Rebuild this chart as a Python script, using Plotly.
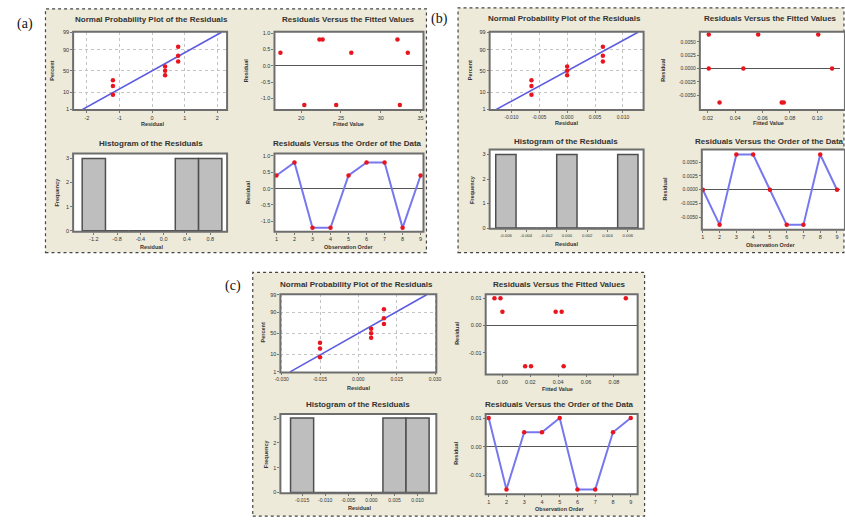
import plotly.graph_objects as go
from statistics import NormalDist

W, H = 845, 523

# ---------------- data ----------------
obs_order = [1, 2, 3, 4, 5, 6, 7, 8, 9]
npp_percent = [7.4, 18.1, 28.7, 39.4, 50.0, 60.6, 71.3, 81.9, 92.6]
npp_pct_ticks = [1, 10, 50, 90, 99]
fit_line_pct = [1, 99]
freq_ticks = [0, 1, 2, 3]

# (a)
a_resid = [0.4, 0.8, -1.2, -1.2, 0.4, 0.8, 0.8, -1.2, 0.4]
a_fitted = [17.4, 22.3, 20.4, 24.4, 26.3, 22.7, 32.1, 32.4, 33.4]
a_npp_resid = [-1.2, -1.2, -1.2, 0.4, 0.4, 0.4, 0.8, 0.8, 0.8]
a_line_resid = [-2.13, 2.13]
a_hist_mid = [-1.2, -0.8, -0.4, 0.0, 0.4, 0.8]
a_hist_count = [3, 0, 0, 0, 3, 3]
a_hist_binw = 0.4
a_npp_xticks = [-2, -1, 0, 1, 2]
a_npp_xlabels = ["-2", "-1", "0", "1", "2"]
a_fit_xticks = [20, 25, 30, 35]
a_fit_xlabels = ["20", "25", "30", "35"]
a_res_yticks = [1.0, 0.5, 0.0, -0.5, -1.0]
a_res_ylabels = ["1.0", "0.5", "0.0", "-0.5", "-1.0"]
a_hist_xlabels = ["-1.2", "-0.8", "-0.4", "0.0", "0.4", "0.8"]

# (b)
b_resid = [0.0, -0.0064, 0.0064, 0.0064, 0.0, -0.0064, -0.0064, 0.0064, 0.0]
b_fitted = [0.0207, 0.0286, 0.0207, 0.0568, 0.046, 0.074, 0.0755, 0.1007, 0.1108]
b_npp_resid = [-0.0064, -0.0064, -0.0064, 0.0, 0.0, 0.0, 0.0064, 0.0064, 0.0064]
b_line_resid = [-0.0127, 0.0127]
b_hist_mid = [-0.006, -0.004, -0.002, 0.0, 0.002, 0.004, 0.006]
b_hist_count = [3, 0, 0, 3, 0, 0, 3]
b_hist_binw = 0.002
b_npp_xticks = [-0.010, -0.005, 0.0, 0.005, 0.010]
b_npp_xlabels = ["-0.010", "-0.005", "0.000", "0.005", "0.010"]
b_fit_xticks = [0.02, 0.04, 0.06, 0.08, 0.10]
b_fit_xlabels = ["0.02", "0.04", "0.06", "0.08", "0.10"]
b_res_yticks = [0.005, 0.0025, 0.0, -0.0025, -0.005]
b_res_ylabels = ["0.0050", "0.0025", "0.0000", "-0.0025", "-0.0050"]
b_hist_xlabels = ["-0.006", "-0.004", "-0.002", "0.000", "0.002", "0.004", "0.006"]

# (c)
c_resid = [0.01, -0.015, 0.005, 0.005, 0.01, -0.015, -0.015, 0.005, 0.01]
c_fitted = [-0.0057, 0.0163, 0.0, 0.0382, -0.0014, 0.0205, 0.0439, 0.0425, 0.0885]
c_npp_resid = [-0.015, -0.015, -0.015, 0.005, 0.005, 0.005, 0.01, 0.01, 0.01]
c_line_resid = [-0.0267, 0.0267]
c_hist_mid = [-0.015, -0.010, -0.005, 0.0, 0.005, 0.010]
c_hist_count = [3, 0, 0, 0, 3, 3]
c_hist_binw = 0.005
c_npp_xticks = [-0.030, -0.015, 0.0, 0.015, 0.030]
c_npp_xlabels = ["-0.030", "-0.015", "0.000", "0.015", "0.030"]
c_fit_xticks = [0.0, 0.02, 0.04, 0.06, 0.08]
c_fit_xlabels = ["0.00", "0.02", "0.04", "0.06", "0.08"]
c_res_yticks = [0.01, 0.0, -0.01]
c_res_ylabels = ["0.01", "0.00", "-0.01"]
c_hist_xlabels = ["-0.015", "-0.010", "-0.005", "0.000", "0.005", "0.010"]

T_NPP = "Normal Probability Plot of the Residuals"
T_FIT = "Residuals Versus the Fitted Values"
T_HIST = "Histogram of the Residuals"
T_ORD = "Residuals Versus the Order of the Data"

# ---------------- styling ----------------
FONT = "Liberation Sans"
BEIGE = "#EDEAD9"
FRAME = "#6E6E6E"
RED = "#E8141E"
BLUE = "#5C5CE0"
LBLUE = "#7878EE"
TXT = "#333333"

nd = NormalDist()
def z(p):
    return nd.inv_cdf(p / 100.0)

def px(xp):
    return xp / W

def py(yp):
    return 1 - yp / H

fig = go.Figure()
layout = dict(shapes=[], annotations=[])
counter = [0]

def axes(box, xr, yr, xt, xtt, yt, ytt, grid=False, zero=False, xfs=5.5, yfs=5.5):
    counter[0] += 1
    i = counter[0]
    sfx = "" if i == 1 else str(i)
    x0, y0, x1, y1 = box
    common = dict(ticks="outside", ticklen=2, tickcolor="#777", tickwidth=1,
                  showline=False, fixedrange=True, layer="above traces")
    layout["xaxis" + sfx] = dict(domain=[px(x0), min(1.0, px(x1))], range=xr,
                                 anchor="y" + sfx, tickvals=xt, ticktext=xtt,
                                 tickfont=dict(size=xfs, color=TXT, family=FONT),
                                 showgrid=grid, gridcolor="#C4C4C4", griddash="dot",
                                 zeroline=False, **common)
    layout["yaxis" + sfx] = dict(domain=[py(y1), py(y0)], range=yr,
                                 anchor="x" + sfx, tickvals=yt, ticktext=ytt,
                                 tickfont=dict(size=yfs, color=TXT, family=FONT),
                                 showgrid=grid, gridcolor="#C4C4C4", griddash="dot",
                                 zeroline=zero, zerolinecolor="#555555", zerolinewidth=1,
                                 **common)
    layout["shapes"].append(dict(type="rect", xref="paper", yref="paper", layer="below",
                                 x0=px(x0), x1=px(x1), y0=py(y1), y1=py(y0),
                                 fillcolor="white", line=dict(width=0)))
    layout["shapes"].append(dict(type="rect", xref="paper", yref="paper", layer="above",
                                 x0=px(x0), x1=px(x1), y0=py(y1), y1=py(y0),
                                 fillcolor="rgba(0,0,0,0)", line=dict(color=FRAME, width=2)))
    return "x" + sfx, "y" + sfx

def text(s, xp, yp, size=5.5, bold=True, angle=0, color=TXT, family=FONT):
    layout["annotations"].append(dict(
        text=("<b>%s</b>" % s) if bold else s, x=px(xp), y=py(yp), xref="paper", yref="paper",
        showarrow=False, textangle=angle, xanchor="center", yanchor="middle",
        font=dict(size=size, color=color, family=family)))

def panel(box):
    x0, y0, x1, y1 = box
    layout["shapes"].append(dict(type="rect", xref="paper", yref="paper", layer="below",
                                 x0=px(x0), x1=px(x1), y0=py(y1), y1=py(y0),
                                 fillcolor=BEIGE, line=dict(color="#444444", width=1.2, dash="dot")))

def npp(xa, ya, resid, line_resid):
    fig.add_trace(go.Scatter(x=line_resid, y=[z(p) for p in fit_line_pct], mode="lines",
                             line=dict(color=BLUE, width=1.6), xaxis=xa, yaxis=ya,
                             showlegend=False, hoverinfo="skip"))
    fig.add_trace(go.Scatter(x=resid, y=[z(p) for p in npp_percent], mode="markers",
                             marker=dict(color=RED, size=4.5), xaxis=xa, yaxis=ya,
                             showlegend=False, cliponaxis=False))

def fitted(xa, ya, fv, resid):
    fig.add_trace(go.Scatter(x=fv, y=resid, mode="markers", marker=dict(color=RED, size=4.5),
                             xaxis=xa, yaxis=ya, showlegend=False))

def hist(xa, ya, mids, counts, w):
    fig.add_trace(go.Bar(x=mids, y=counts, width=w, marker=dict(color="#BEBEBE",
                         line=dict(color="#4F4F4F", width=1.5)), xaxis=xa, yaxis=ya,
                         showlegend=False))

def order(xa, ya, resid):
    fig.add_trace(go.Scatter(x=obs_order, y=resid, mode="lines+markers",
                             line=dict(color=LBLUE, width=2), marker=dict(color=RED, size=4.5),
                             xaxis=xa, yaxis=ya, showlegend=False))

npp_yt = [z(p) for p in npp_pct_ticks]
npp_ytt = [str(p) for p in npp_pct_ticks]
ZR = [-2.36, 2.36]

# ---------------- panel (a) ----------------
panel((40, 6, 426, 252))
text("(a)", 19, 21, size=14, bold=False, color="#111", family="Liberation Serif")
xa, ya = axes((68, 29, 224, 108), [-2.42, 2.3], ZR, a_npp_xticks, a_npp_xlabels, npp_yt, npp_ytt, grid=True)
npp(xa, ya, a_npp_resid, a_line_resid)
xa, ya = axes((272, 29, 423, 108), [16.65, 35.37], [-1.35, 1.04], a_fit_xticks, a_fit_xlabels,
              a_res_yticks, a_res_ylabels, zero=True)
fitted(xa, ya, a_fitted, a_resid)
xa, ya = axes((68, 152, 224, 231), [-1.556, 1.09], [-0.04, 3.2], a_hist_mid, a_hist_xlabels,
              freq_ticks, [str(v) for v in freq_ticks])
hist(xa, ya, a_hist_mid, a_hist_count, a_hist_binw)
xa, ya = axes((272, 152, 423, 231), [0.89, 9.16], [-1.32, 1.07], obs_order, [str(v) for v in obs_order],
              a_res_yticks, a_res_ylabels, zero=True)
order(xa, ya, a_resid)
text(T_NPP, 147, 17, size=8); text(T_FIT, 347, 17, size=8)
text(T_HIST, 147, 142, size=8); text(T_ORD, 346, 142, size=8)
text("Percent", 47, 68, angle=-90); text("Residual", 148, 122)
text("Residual", 244, 68, angle=-90); text("Fitted Value", 347, 122)
text("Frequency", 52, 191, angle=-90); text("Residual", 147, 246)
text("Residual", 245, 191, angle=-90); text("Observation Order", 347, 246)

# ---------------- panel (b) ----------------
panel((458, 5, 849, 252))
text("(b)", 439, 16, size=14, bold=False, color="#111", family="Liberation Serif")
xa, ya = axes((490, 29, 646, 108), [-0.0139, 0.0137], ZR, b_npp_xticks, b_npp_xlabels, npp_yt, npp_ytt,
              grid=True, xfs=5)
npp(xa, ya, b_npp_resid, b_line_resid)
xa, ya = axes((703, 29, 850, 108), [0.0142, 0.1166], [-0.0078, 0.0069], b_fit_xticks, b_fit_xlabels,
              b_res_yticks, b_res_ylabels, zero=True, yfs=5)
fitted(xa, ya, b_fitted, b_resid)
xa, ya = axes((490, 148, 646, 228), [-0.0076, 0.00755], [-0.03, 3.2], b_hist_mid, b_hist_xlabels,
              freq_ticks, [str(v) for v in freq_ticks], xfs=4.2)
hist(xa, ya, b_hist_mid, b_hist_count, b_hist_binw)
xa, ya = axes((705, 148, 850, 229), [0.94, 9.18], [-0.0073, 0.0073], obs_order, [str(v) for v in obs_order],
              b_res_yticks, b_res_ylabels, zero=True, yfs=5)
order(xa, ya, b_resid)
text(T_NPP, 566, 16, size=8); text(T_FIT, 775, 16, size=8)
text(T_HIST, 567, 140, size=8); text(T_ORD, 774, 140, size=8)
text("Percent", 470, 68, angle=-90); text("Residual", 568, 121)
text("Residual", 666, 68, angle=-90); text("Fitted Value", 773, 121)
text("Frequency", 472, 188, angle=-90); text("Residual", 568, 243)
text("Residual", 668, 188, angle=-90); text("Observation Order", 775, 244)

# ---------------- panel (c) ----------------
panel((250, 272, 647, 518))
text("(c)", 230, 286, size=14, bold=False, color="#111", family="Liberation Serif")
xa, ya = axes((278, 294, 436, 373), [-0.0305, 0.0305], ZR, c_npp_xticks, c_npp_xlabels, npp_yt, npp_ytt,
              grid=True, xfs=5)
npp(xa, ya, c_npp_resid, c_line_resid)
xa, ya = axes((486, 294, 640, 375), [-0.012, 0.097], [-0.018, 0.01145], c_fit_xticks, c_fit_xlabels,
              c_res_yticks, c_res_ylabels, zero=True)
fitted(xa, ya, c_fitted, c_resid)
xa, ya = axes((278, 415, 436, 495), [-0.0197, 0.01406], [-0.03, 3.16], c_hist_mid, c_hist_xlabels,
              freq_ticks, [str(v) for v in freq_ticks], xfs=5)
hist(xa, ya, c_hist_mid, c_hist_count, c_hist_binw)
xa, ya = axes((486, 415, 640, 496), [0.83, 9.39], [-0.0167, 0.0114], obs_order, [str(v) for v in obs_order],
              c_res_yticks, c_res_ylabels, zero=True)
order(xa, ya, c_resid)
text(T_NPP, 355, 284, size=8); text(T_FIT, 561, 284, size=8)
text(T_HIST, 357, 405, size=8); text(T_ORD, 561, 405, size=8)
text("Percent", 260, 333, angle=-90); text("Residual", 357, 389)
text("Residual", 457, 334, angle=-90); text("Fitted Value", 559, 390)
text("Frequency", 263, 455, angle=-90); text("Residual", 358, 510)
text("Residual", 456, 455, angle=-90); text("Observation Order", 561, 511)

fig.update_layout(width=W, height=H, margin=dict(l=0, r=0, t=0, b=0, pad=0),
                  paper_bgcolor="white", plot_bgcolor="white", bargap=0,
                  font=dict(family=FONT, color=TXT), showlegend=False, **layout)
fig.write_html("out.html", config=dict(displayModeBar=False, staticPlot=True),
               post_script="document.body.style.margin='0px';document.body.style.padding='0px';")
